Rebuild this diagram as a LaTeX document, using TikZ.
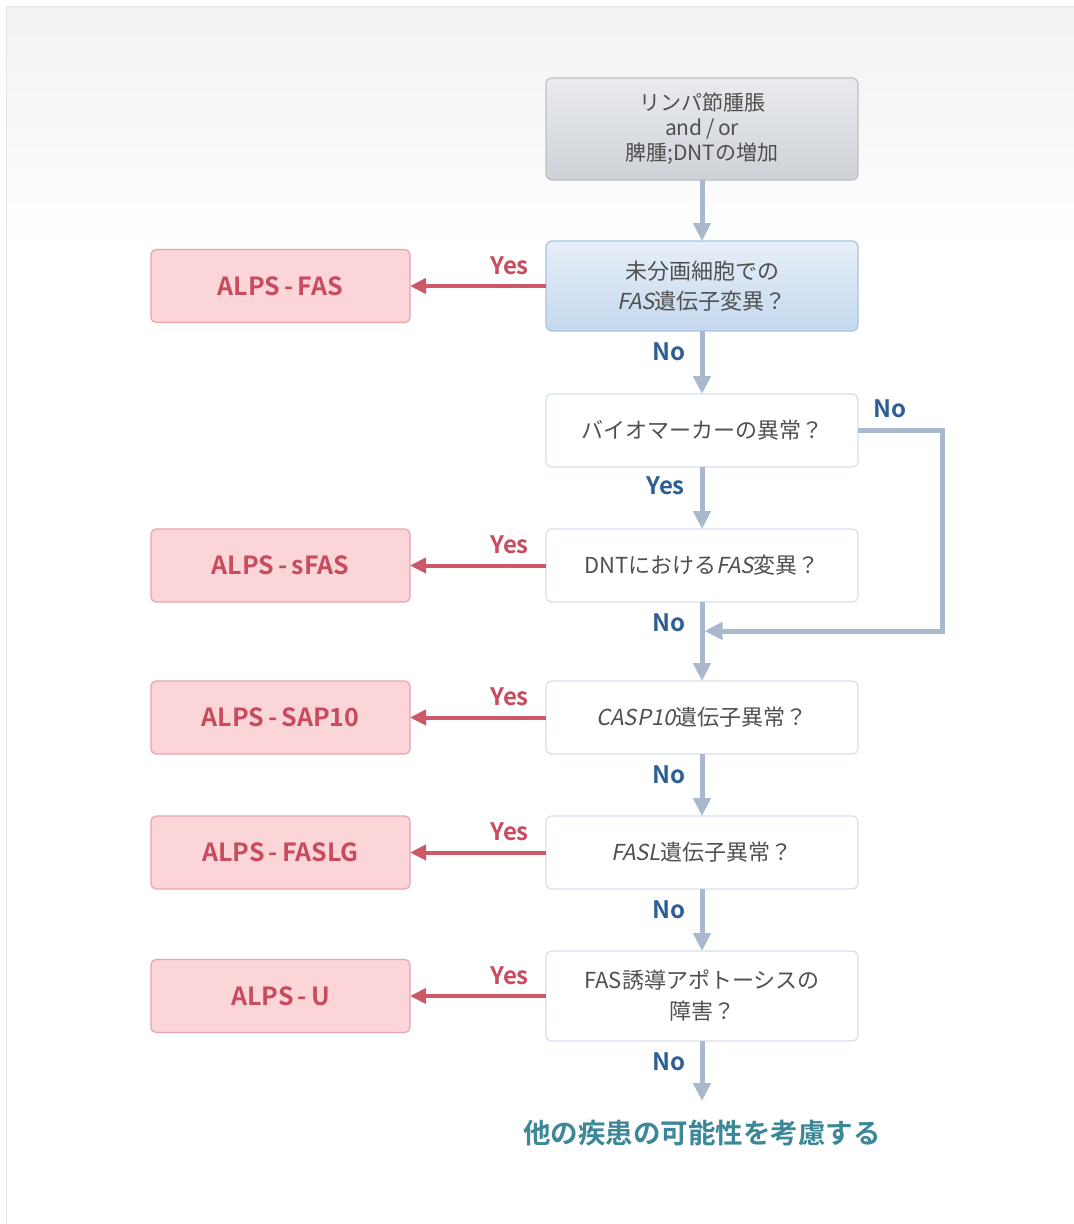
\documentclass[tikz,border=0pt]{standalone}
\usepackage{fontspec}
\setmainfont{Noto Sans CJK JP}[ItalicFont=Noto Sans CJK JP,ItalicFeatures={FakeSlant=0.2},BoldFont=Noto Sans CJK JP Bold]
\usetikzlibrary{positioning}
\usetikzlibrary{calc}
\usetikzlibrary{arrows.meta}

\definecolor{bgtop}{HTML}{F1F2F4}
\definecolor{framegray}{HTML}{E4E5E7}
\definecolor{flowline}{HTML}{A8B8CD}
\definecolor{yesline}{HTML}{CD5868}
\definecolor{alpsfill}{HTML}{FCD5D9}
\definecolor{alpsdraw}{HTML}{EAA3AB}
\definecolor{alpstext}{HTML}{C64C5E}
\definecolor{qdraw}{HTML}{D4E0EE}
\definecolor{qtext}{HTML}{505050}
\definecolor{nolabel}{HTML}{2D5F95}
\definecolor{endtext}{HTML}{3C8898}
\definecolor{graytop}{HTML}{E9EBEE}
\definecolor{graybot}{HTML}{CED2D8}
\definecolor{graydraw}{HTML}{BCC1C8}
\definecolor{bluetop}{HTML}{E7EFF8}
\definecolor{bluebot}{HTML}{C4D8EE}
\definecolor{bluedraw}{HTML}{A8C3E1}

\begin{document}
\begin{tikzpicture}[x=1pt,y=1pt
  , question/.style={ draw=qdraw, fill=white, line width=1.2pt
                    , rounded corners=6pt, outer sep=0pt
                    , minimum width=312pt, minimum height=73pt
                    , align=center, text=qtext
                    , font=\fontsize{22}{31}\selectfont
                    }
  , startbox/.style={ question, draw=graydraw, top color=graytop, bottom color=graybot
                    , minimum height=102pt, font=\fontsize{21}{25}\selectfont
                    }
  , firstq/.style={ question, draw=bluedraw, top color=bluetop, bottom color=bluebot
                  , minimum height=90pt, font=\fontsize{22}{30}\selectfont
                  }
  , alps/.style={ draw=alpsdraw, fill=alpsfill, line width=1.2pt
                , rounded corners=5pt, outer sep=0pt
                , minimum width=259pt, minimum height=73pt
                , text=alpstext, font=\fontsize{25}{30}\selectfont\bfseries
                }
  , yeslbl/.style={inner sep=0pt, text=alpstext, font=\fontsize{24}{28}\selectfont\bfseries}
  , nolbl/.style={inner sep=0pt, text=nolabel, font=\fontsize{24}{28}\selectfont\bfseries}
  , flow/.style={draw=flowline, line width=5pt, -{Triangle[length=18pt,width=17pt]}}
  , yesarrow/.style={draw=yesline, line width=4pt, -{Triangle[length=16pt,width=15pt]}}
  , final/.style={inner sep=0pt, text=endtext, font=\fontsize{27.5}{32}\selectfont\bfseries}
  ]

  \useasboundingbox (0,0) rectangle (1074,-1224);
  \fill [white] (0,0) rectangle (1074,-1224);
  \shade [top color=bgtop, bottom color=white] (7,-7) rectangle (1074,-250);
  \draw [framegray, line width=1.5pt] (6.5,-1224) -- (6.5,-6.5) -- (1074,-6.5);

  % main column
  \node (lymph) [startbox] at (702,-129) {リンパ節腫脹\\and\,/\,or\\脾腫;DNTの増加};
  \node (fasq) [firstq, below = 61pt of lymph] {未分画細胞での\\\textit{FAS}遺伝子変異？};
  \node (bio) [question, below = 63pt of fasq] {バイオマーカーの異常？};
  \node (dnt) [question, below = 62pt of bio] {DNTにおける\textit{FAS}変異？};
  \node (casp) [question, below = 79pt of dnt] {\textit{CASP10}遺伝子異常？};
  \node (fasl) [question, below = 62pt of casp] {\textit{FASL}遺伝子異常？};
  \node (fasind) [question, minimum height=90pt, below = 62pt of fasl] {FAS誘導アポトーシスの\\障害？};

  % results
  \node (alpsfas) [alps, left = 136pt of fasq] {ALPS\,-\,FAS};
  \node (alpssfas) [alps, left = 136pt of dnt] {ALPS\,-\,sFAS};
  \node (alpscasp) [alps, left = 136pt of casp] {ALPS\,-\,SAP10};
  \node (alpsfasl) [alps, left = 136pt of fasl] {ALPS\,-\,FASLG};
  \node (alpsu) [alps, left = 136pt of fasind] {ALPS\,-\,U};

  \foreach \q/\a in {fasq/alpsfas, dnt/alpssfas, casp/alpscasp, fasl/alpsfasl, fasind/alpsu}
  {
    \draw [yesarrow] (\q) -- (\a);
    \node (yes-\q) [yeslbl, above left = 11pt and 17pt of \q.west] {Yes};
  }

  \draw [flow] (lymph) -- (fasq);
  \draw [flow] (fasq) -- (bio);
  \draw [flow] (bio) -- (dnt);
  \draw [flow] (dnt) -- (casp);
  \draw [flow] (casp) -- (fasl);
  \draw [flow] (fasl) -- (fasind);

  \node (no-fasq) [nolbl, below left = 12pt and 16pt of fasq.south] {No};
  \node (yes-bio) [nolbl, below left = 10pt and 17pt of bio.south] {Yes};
  \node (no-bio) [nolbl, above right = 12pt and 15pt of bio.east] {No};
  \node (no-dnt) [nolbl, below left = 12pt and 16pt of dnt.south] {No};
  \node (no-casp) [nolbl, below left = 12pt and 16pt of casp.south] {No};
  \node (no-fasl) [nolbl, below left = 12pt and 16pt of fasl.south] {No};
  \node (no-fasind) [nolbl, below left = 12pt and 16pt of fasind.south] {No};

  % bypass
  \path ($(dnt.south)+(0,-29)$) coordinate (merge);
  \draw [flow, shorten >=2.5pt] (bio.east) -- ++(84,0) |- (merge);

  % end
  \path ($(fasind.south)+(0,-60)$) coordinate (stop);
  \draw [flow] (fasind) -- (stop);
  \node (other) [final, below = 19pt of stop] {他の疾患の可能性を考慮する};

\end{tikzpicture}
\end{document}
